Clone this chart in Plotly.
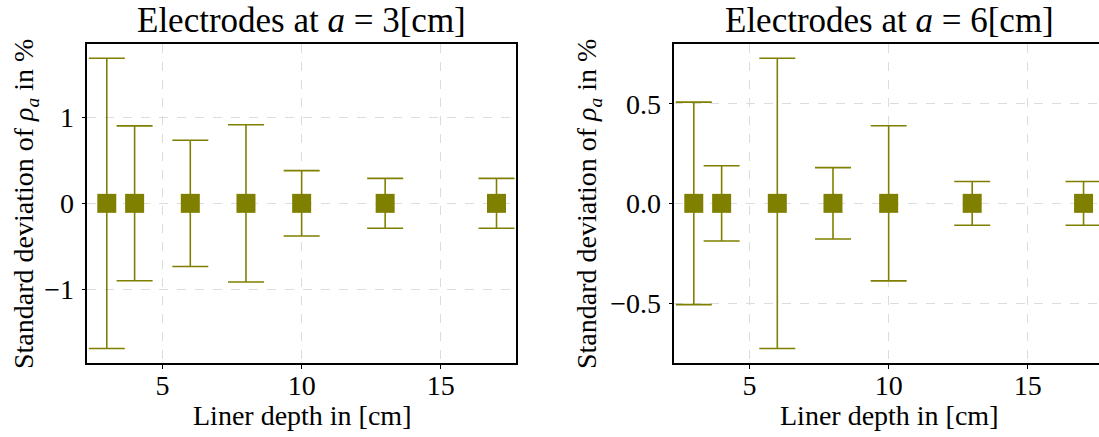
import plotly.graph_objects as go

depth = [3, 4, 6, 8, 10, 13, 17]
mean_a3 = [0, 0, 0, 0, 0, 0, 0]
std_a3 = [1.686, 0.90, 0.733, 0.913, 0.38, 0.29, 0.29]
mean_a6 = [0, 0, 0, 0, 0, 0, 0]
std_a6 = [0.508, 0.189, 0.728, 0.179, 0.389, 0.11, 0.11]

titles = ["Electrodes at <i>a</i> = 3[cm]", "Electrodes at <i>a</i> = 6[cm]"]
xlabel = "Liner depth in [cm]"
ylabel = "Standard deviation of <i>ρ<sub>a</sub></i> in %"

OLIVE = "#808000"
FONT = "Liberation Serif"
W, H = 1099, 437

def px(x):
    return x / W

def py(y):
    return 1 - y / H

fig = go.Figure()
for i, (m, s) in enumerate([(mean_a3, std_a3), (mean_a6, std_a6)]):
    sfx = "" if i == 0 else "2"
    fig.add_trace(go.Scatter(
        x=depth, y=m, mode="markers",
        marker=dict(symbol="square", size=19, color=OLIVE, line=dict(width=0)),
        error_y=dict(type="data", array=s, visible=True, color=OLIVE, thickness=1.6, width=18),
        xaxis="x" + sfx, yaxis="y" + sfx, showlegend=False, cliponaxis=False,
        hoverinfo="skip",
    ))

ydom = [py(363), py(43.7)]
common_axis = dict(
    showline=True, linecolor="black", linewidth=1.5,
    ticks="outside", ticklen=4, tickwidth=1, tickcolor="black",
    showgrid=True, gridcolor="#dcdcdc", gridwidth=0.8, griddash="dash",
    zeroline=False, tickfont=dict(family=FONT, size=28, color="black"),
)

x2_left = 674.3
x2_right_range = 2.3 + (W - x2_left) / 27.84

fig.update_layout(
    width=W, height=H, margin=dict(l=0, r=0, t=0, b=0),
    paper_bgcolor="white", plot_bgcolor="white",
    xaxis=dict(domain=[px(87.3), px(516)], range=[2.3, 17.7], tickvals=[5, 10, 15],
               anchor="y", mirror=True, ticklabelstandoff=-7, **common_axis),
    yaxis=dict(domain=ydom, range=[-1.855, 1.855], tickvals=[-1, 0, 1],
               anchor="x", mirror=True, ticklabelstandoff=2, **common_axis),
    xaxis2=dict(domain=[px(x2_left), 1.0], range=[2.3, x2_right_range], tickvals=[5, 10, 15],
                anchor="y2", mirror=True, ticklabelstandoff=-7, **common_axis),
    yaxis2=dict(domain=ydom, range=[-0.801, 0.801], tickvals=[-0.5, 0, 0.5], tickformat=".1f",
                anchor="x2", mirror=False, ticklabelstandoff=2, **common_axis),
)

ann_font_title = dict(family=FONT, size=35, color="black")
ann_font_lab = dict(family=FONT, size=28, color="black")
for cx, t in zip([301.6, 889.0], titles):
    fig.add_annotation(x=px(cx), y=py(21), xref="paper", yref="paper", text=t,
                       showarrow=False, font=ann_font_title, xanchor="center", yanchor="middle")
for cx in [301.6, 889.0]:
    fig.add_annotation(x=px(cx), y=py(415), xref="paper", yref="paper", text=xlabel,
                       showarrow=False, font=ann_font_lab, xanchor="center", yanchor="middle")
for cx in [25.0, 588.0]:
    fig.add_annotation(x=px(cx), y=py(204), xref="paper", yref="paper", text=ylabel,
                       showarrow=False, font=ann_font_lab, textangle=-90,
                       xanchor="center", yanchor="middle")

fig.write_html("out.html", config={"displayModeBar": False},
               post_script="document.body.style.margin='0';")
